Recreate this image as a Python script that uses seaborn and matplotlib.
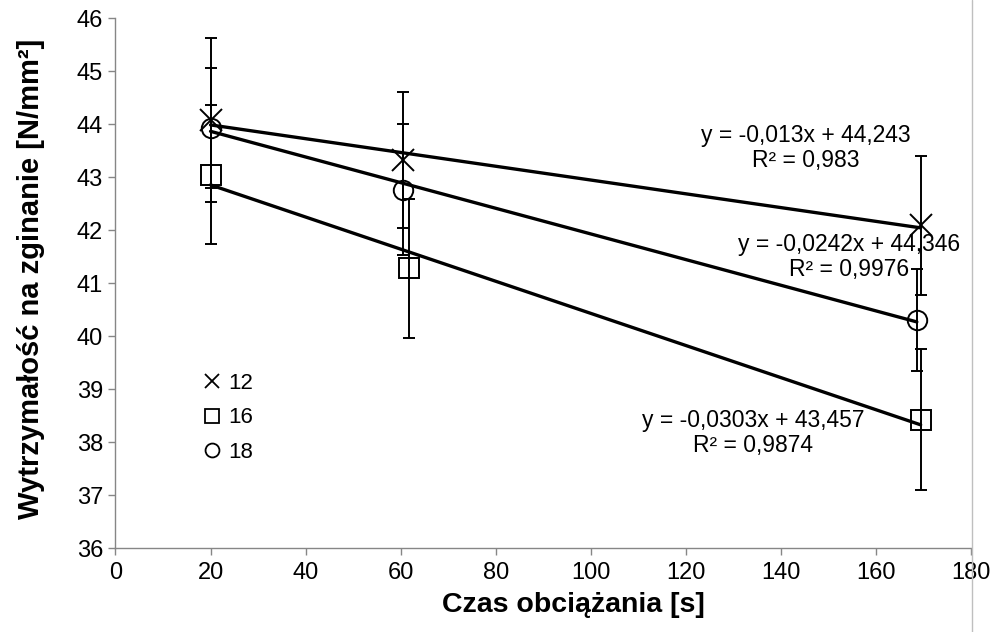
import numpy as np
import pandas as pd
import matplotlib
matplotlib.use("Agg")
import matplotlib.pyplot as plt
from matplotlib.lines import Line2D
import seaborn as sns

# series names (legend)
series = ['12', '16', '18']
markers = {'12': 'x', '16': 's', '18': 'o'}

x_vals = {
    '12': [20.0, 60.5, 169.4],
    '16': [20.0, 61.8, 169.4],
    '18': [20.0, 60.5, 168.6],
}
y_vals = {
    '12': [44.08, 43.32, 42.09],
    '16': [43.04, 41.28, 38.42],
    '18': [43.92, 42.76, 40.30],
}
y_err = {
    '12': [1.55, 1.29, 1.31],
    '16': [1.31, 1.31, 1.33],
    '18': [1.13, 1.24, 0.96],
}

# linear trend lines shown on the chart
slopes = {'12': -0.013, '16': -0.0303, '18': -0.0242}
intercepts = {'12': 44.243, '16': 43.457, '18': 44.346}
trend_labels = {
    '12': 'y = -0,013x + 44,243\nR² = 0,983',
    '18': 'y = -0,0242x + 44,346\nR² = 0,9976',
    '16': 'y = -0,0303x + 43,457\nR² = 0,9874',
}
label_pos = {'12': (0.807, 0.755), '18': (0.857, 0.549), '16': (0.745, 0.217)}

x_ticks = list(range(0, 181, 20))
y_ticks = list(range(36, 47))

sns.set_theme(style="white")
plt.rcParams['font.family'] = ['Liberation Sans', 'DejaVu Sans']
plt.rcParams['text.color'] = 'black'
plt.rcParams['axes.labelcolor'] = 'black'

fig = plt.figure(figsize=(9.99, 6.32), dpi=100)
ax = fig.add_axes([0.1156, 0.1329, 0.8564, 0.8386])

# trend lines
rows = []
for s in series:
    for xx in [x_vals[s][0], x_vals[s][-1]]:
        rows.append({'series': s, 'x': xx, 'y': slopes[s] * xx + intercepts[s]})
trend_df = pd.DataFrame(rows)
sns.lineplot(data=trend_df, x='x', y='y', units='series', estimator=None,
             color='black', linewidth=2.4, ax=ax, zorder=4, legend=False)

# points with error bars
for s in series:
    ax.errorbar(x_vals[s], y_vals[s], yerr=y_err[s], fmt=markers[s],
                color='black', markerfacecolor='none', markeredgecolor='black',
                markersize=16 if s == '12' else 14, markeredgewidth=1.4,
                ecolor='black', elinewidth=1.4, capsize=4, capthick=1.6,
                zorder=3)

for s in series:
    ax.text(label_pos[s][0], label_pos[s][1], trend_labels[s], transform=ax.transAxes,
            ha='center', va='center', fontsize=16.5, color='black', linespacing=1.1,
            zorder=5)

ax.set_xlim(0, 180)
ax.set_ylim(36, 46)
ax.set_xticks(x_ticks)
ax.set_yticks(y_ticks)
ax.tick_params(axis='both', direction='out', length=5, width=1, color='#868686',
               labelsize=17, labelcolor='black', bottom=True, left=True)
ax.tick_params(axis='x', pad=5)
ax.tick_params(axis='y', pad=4)
for side in ['top', 'right']:
    ax.spines[side].set_visible(False)
for side in ['left', 'bottom']:
    ax.spines[side].set_color('#868686')
    ax.spines[side].set_linewidth(1)

ax.set_xlabel('Czas obciążania [s]', fontsize=20.5, fontweight='bold')
ax.set_ylabel('Wytrzymałość na zginanie [N/mm²]', fontsize=21, fontweight='bold')
ax.xaxis.set_label_coords(0.535, -0.083)
ax.yaxis.set_label_coords(-0.082, 0.508)

handles = [Line2D([], [], linestyle='none', marker=markers[s], color='black',
                  markerfacecolor='none', markersize=10, markeredgewidth=1.3)
           for s in series]
ax.legend(handles, series, loc='upper left', bbox_to_anchor=(0.103, 0.33),
          frameon=False, fontsize=16, handlelength=0.8, handletextpad=0.3,
          labelspacing=0.6, borderpad=0, borderaxespad=0)

# chart area edge on the right
fig.add_artist(Line2D([971.5 / 999, 971.5 / 999], [0, 1], transform=fig.transFigure,
                      color='#bfbfbf', linewidth=1))

fig.savefig('out.png', dpi=100)
